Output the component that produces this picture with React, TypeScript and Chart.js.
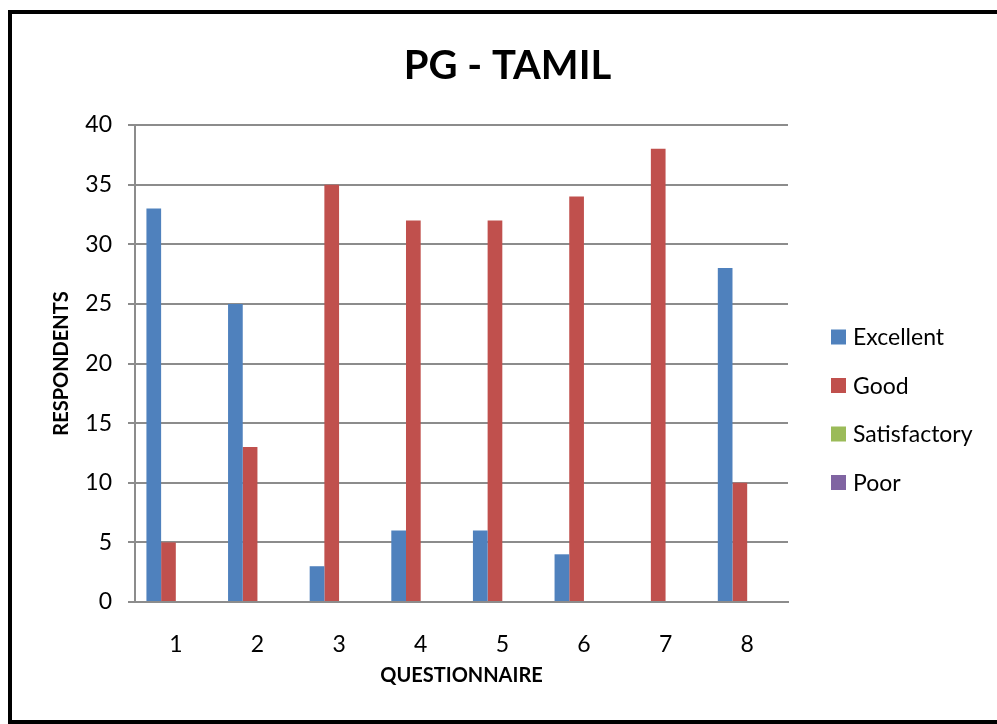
import React, { useEffect, useRef } from "react";
import { Chart, registerables } from "chart.js";

Chart.register(...registerables);

const categories = ["1", "2", "3", "4", "5", "6", "7", "8"];
const excellent = [33, 25, 3, 6, 6, 4, 0, 28];
const good = [5, 13, 35, 32, 32, 34, 38, 10];
const satisfactory = [0, 0, 0, 0, 0, 0, 0, 0];
const poor = [0, 0, 0, 0, 0, 0, 0, 0];
const seriesNames = ["Excellent", "Good", "Satisfactory", "Poor"];
const seriesColors = ["#4F81BD", "#C0504D", "#9BBB59", "#8064A2"];
const chartTitle = "PG - TAMIL";

const FONT = "Lato, 'Open Sans', sans-serif";

const customLegend = {
  id: "customLegend",
  afterDraw(chart: any) {
    const { ctx, chartArea } = chart;
    const x = chartArea.right + 43;
    const startY = chartArea.top + 212;
    const step = 48.5;
    ctx.save();
    ctx.font = `23px ${FONT}`;
    ctx.textBaseline = "middle";
    ctx.textAlign = "left";
    chart.data.datasets.forEach((ds: any, i: number) => {
      const cy = startY + i * step;
      ctx.fillStyle = ds.backgroundColor;
      ctx.fillRect(x, cy - 7.5, 15, 15);
      ctx.fillStyle = "#000";
      ctx.fillText(ds.label, x + 22, cy + 1);
    });
    // title centred over the whole chart box
    ctx.font = `bold 40px ${FONT}`;
    ctx.textAlign = "center";
    ctx.fillText(chartTitle, chart.width / 2 + 2, 52);
    ctx.restore();
  },
};

export default function App() {
  const ref = useRef<HTMLCanvasElement>(null);
  useEffect(() => {
    if (!ref.current) return;
    const values = [excellent, good, satisfactory, poor];
    const chart = new Chart(ref.current, {
      type: "bar",
      data: {
        labels: categories,
        datasets: seriesNames.map((name, i) => ({
          label: name,
          data: values[i],
          backgroundColor: seriesColors[i],
          borderWidth: 0,
          categoryPercentage: 0.72,
          barPercentage: 1.0,
        })),
      },
      options: {
        responsive: false,
        animation: false,
        layout: { padding: { left: 38, right: 211, top: 111, bottom: 32 } },
        plugins: {
          legend: { display: false },
          tooltip: { enabled: false },
          title: { display: false },
        },
        scales: {
          x: {
            grid: { display: false },
            border: { display: true, color: "#8c8c8c", width: 2 },
            ticks: {
              color: "#000",
              font: { family: FONT, size: 23 },
              padding: 21,
            },
            title: {
              display: true,
              text: "QUESTIONNAIRE",
              color: "#000",
              font: { family: FONT, size: 20, weight: "bold", lineHeight: 1.2 },
              padding: 0,
            },
            afterFit(scale: any) {
              scale.height = 86;
            },
          },
          y: {
            min: 0,
            max: 40,
            ticks: {
              stepSize: 5,
              color: "#000",
              font: { family: FONT, size: 23 },
              padding: 16,
            },
            grid: {
              color: "#8c8c8c",
              lineWidth: 2,
              drawTicks: true,
              tickLength: 7,
            },
            border: { display: true, color: "#8c8c8c", width: 2 },
            title: {
              display: true,
              text: "RESPONDENTS",
              color: "#000",
              font: { family: FONT, size: 20, weight: "bold", lineHeight: 1.2 },
              padding: 0,
            },
            afterFit(scale: any) {
              scale.width = 85;
            },
          },
        },
      },
      plugins: [customLegend],
    });
    return () => chart.destroy();
  }, []);

  return (
    <div
      style={{
        position: "absolute",
        left: 8,
        top: 10,
        width: 995,
        height: 714,
        border: "4px solid #000",
        boxSizing: "border-box",
        background: "#fff",
      }}
    >
      <canvas ref={ref} width={987} height={706} style={{ display: "block", width: 987, height: 706 }} />
    </div>
  );
}
